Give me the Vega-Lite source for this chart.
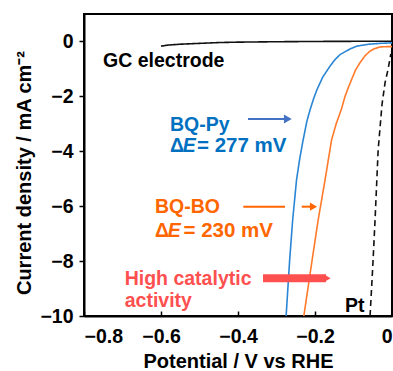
{
  "$schema": "https://vega.github.io/schema/vega-lite/v6.json",
  "autosize": "none",
  "width": 308,
  "height": 302,
  "padding": {"left": 84, "top": 14, "right": 1, "bottom": 55},
  "background": "white",
  "config": {
    "view": {"stroke": "black", "strokeWidth": 2},
    "font": "Liberation Sans",
    "axis": {
      "grid": false,
      "domainColor": "black",
      "domainWidth": 2,
      "tickColor": "black",
      "tickWidth": 1.5,
      "labelFont": "Liberation Sans",
      "labelFontWeight": "bold",
      "labelFontSize": 19.5,
      "labelColor": "black",
      "titleFont": "Liberation Sans",
      "titleFontWeight": "bold",
      "titleFontSize": 20,
      "titleColor": "black"
    }
  },
  "datasets": {
    "curves": [
      {"series": "GC electrode", "E": -0.6, "j": -0.17},
      {"series": "GC electrode", "E": -0.58, "j": -0.13},
      {"series": "GC electrode", "E": -0.55, "j": -0.1},
      {"series": "GC electrode", "E": -0.5, "j": -0.07},
      {"series": "GC electrode", "E": -0.45, "j": -0.04},
      {"series": "GC electrode", "E": -0.4, "j": -0.025},
      {"series": "GC electrode", "E": -0.3, "j": -0.01},
      {"series": "GC electrode", "E": -0.2, "j": 0},
      {"series": "GC electrode", "E": 0, "j": 0.01},
      {"series": "BQ-Py", "E": -0.275, "j": -10},
      {"series": "BQ-Py", "E": -0.266, "j": -8},
      {"series": "BQ-Py", "E": -0.258, "j": -6.5},
      {"series": "BQ-Py", "E": -0.248, "j": -5.05},
      {"series": "BQ-Py", "E": -0.24, "j": -4.3},
      {"series": "BQ-Py", "E": -0.231, "j": -3.6},
      {"series": "BQ-Py", "E": -0.221, "j": -2.9},
      {"series": "BQ-Py", "E": -0.213, "j": -2.5},
      {"series": "BQ-Py", "E": -0.204, "j": -2.1},
      {"series": "BQ-Py", "E": -0.195, "j": -1.76},
      {"series": "BQ-Py", "E": -0.18, "j": -1.3},
      {"series": "BQ-Py", "E": -0.161, "j": -0.9},
      {"series": "BQ-Py", "E": -0.148, "j": -0.66},
      {"series": "BQ-Py", "E": -0.135, "j": -0.48},
      {"series": "BQ-Py", "E": -0.11, "j": -0.28},
      {"series": "BQ-Py", "E": -0.091, "j": -0.17},
      {"series": "BQ-Py", "E": -0.06, "j": -0.1},
      {"series": "BQ-Py", "E": -0.031, "j": -0.07},
      {"series": "BQ-Py", "E": 0, "j": -0.05},
      {"series": "BQ-BO", "E": -0.229, "j": -10},
      {"series": "BQ-BO", "E": -0.21, "j": -8.2},
      {"series": "BQ-BO", "E": -0.192, "j": -6.52},
      {"series": "BQ-BO", "E": -0.174, "j": -5.05},
      {"series": "BQ-BO", "E": -0.157, "j": -3.59},
      {"series": "BQ-BO", "E": -0.145, "j": -3.0},
      {"series": "BQ-BO", "E": -0.131, "j": -2.45},
      {"series": "BQ-BO", "E": -0.122, "j": -2.0},
      {"series": "BQ-BO", "E": -0.114, "j": -1.7},
      {"series": "BQ-BO", "E": -0.105, "j": -1.39},
      {"series": "BQ-BO", "E": -0.095, "j": -1.05},
      {"series": "BQ-BO", "E": -0.083, "j": -0.77},
      {"series": "BQ-BO", "E": -0.07, "j": -0.52},
      {"series": "BQ-BO", "E": -0.057, "j": -0.35},
      {"series": "BQ-BO", "E": -0.045, "j": -0.26},
      {"series": "BQ-BO", "E": -0.031, "j": -0.2},
      {"series": "BQ-BO", "E": -0.015, "j": -0.19},
      {"series": "BQ-BO", "E": 0, "j": -0.19},
      {"series": "Pt", "E": -0.057, "j": -10},
      {"series": "Pt", "E": -0.05, "j": -8.2},
      {"series": "Pt", "E": -0.044, "j": -6.5},
      {"series": "Pt", "E": -0.036, "j": -3.96},
      {"series": "Pt", "E": -0.026, "j": -2.3},
      {"series": "Pt", "E": -0.018, "j": -1.5},
      {"series": "Pt", "E": -0.01, "j": -1.0},
      {"series": "Pt", "E": -0.003, "j": -0.45}
    ],
    "thinArrows": [
      {"group": "BQ-Py", "x": -0.374, "x2": -0.2727, "y": -2.823},
      {"group": "BQ-BO", "x": -0.3862, "x2": -0.2779, "y": -6.018},
      {"group": "BQ-BO", "x": -0.2345, "x2": -0.212, "y": -6.018}
    ],
    "thickArrows": [
      {"group": "activity", "x": -0.335, "x2": -0.1714, "y": -8.627}
    ],
    "heads": [
      {"group": "BQ-Py", "x": -0.2706, "y": -2.823},
      {"group": "BQ-BO", "x": -0.2039, "y": -6.018},
      {"group": "activity", "x": -0.1678, "y": -8.627}
    ],
    "labels": [
      {"group": "black", "x": -0.7506, "y": -0.929, "text": "GC electrode"},
      {"group": "BQ-Py", "x": -0.5766, "y": -3.26, "text": "BQ-Py"},
      {"group": "BQ-Py", "x": -0.5766, "y": -4.026, "text": "Δ"},
      {"group": "BQ-BO", "x": -0.6156, "y": -6.248, "text": "BQ-BO"},
      {"group": "BQ-BO", "x": -0.6156, "y": -7.111, "text": "Δ"},
      {"group": "activity", "x": -0.6943, "y": -8.871, "text": "High catalytic"},
      {"group": "activity", "x": -0.6943, "y": -9.661, "text": "activity"},
      {"group": "black", "x": -0.1221, "y": -9.854, "text": "Pt"}
    ],
    "values": [
      {"group": "BQ-Py", "x": -0.5065, "y": -4.026, "text": "= 277 mV"},
      {"group": "BQ-BO", "x": -0.5416, "y": -7.111, "text": "= 230 mV"}
    ],
    "italic": [
      {"group": "BQ-Py", "x": -0.5436, "y": -4.026, "text": "E"},
      {"group": "BQ-BO", "x": -0.5826, "y": -7.111, "text": "E"}
    ]
  },
  "encoding": {
    "x": {
      "field": "E",
      "type": "quantitative",
      "scale": {"domain": [-0.8, 0], "nice": false, "zero": false},
      "axis": {
        "title": "Potential / V vs RHE",
        "values": [-0.8, -0.6, -0.4, -0.2, 0],
        "format": "~g",
        "tickSize": -5,
        "labelPadding": 31,
        "labelBaseline": "alphabetic",
        "titleBaseline": "alphabetic",
        "titleY": 51.3
      }
    },
    "y": {
      "field": "j",
      "type": "quantitative",
      "scale": {"domain": [-10, 1], "nice": false, "zero": false},
      "axis": {
        "title": "Current density / mA cm⁻²",
        "values": [0, -2, -4, -6, -8, -10],
        "format": "d",
        "tickSize": 5,
        "labelPadding": 6,
        "titleAngle": -90,
        "titleBaseline": "alphabetic",
        "titleX": -53.3,
        "titleY": 158.5
      }
    }
  },
  "layer": [
    {
      "data": {"name": "curves"},
      "mark": {"type": "line", "strokeWidth": 1.6, "clip": true},
      "encoding": {
        "color": {
          "field": "series", "type": "nominal", "legend": null,
          "scale": {"domain": ["GC electrode", "BQ-Py", "BQ-BO", "Pt"], "range": ["#111111", "#2A86D4", "#FF7A2A", "#111111"]}
        },
        "strokeDash": {
          "field": "series", "type": "nominal", "legend": null,
          "scale": {"domain": ["GC electrode", "BQ-Py", "BQ-BO", "Pt"], "range": [[1, 0], [1, 0], [1, 0], [6, 4]]}
        },
        "strokeWidth": {
          "field": "series", "type": "nominal", "legend": null,
          "scale": {"domain": ["GC electrode", "BQ-Py", "BQ-BO", "Pt"], "range": [1.6, 1.6, 1.6, 2]}
        }
      }
    },
    {
      "data": {"name": "thinArrows"},
      "mark": {"type": "rule", "strokeWidth": 2},
      "encoding": {
        "x": {"field": "x", "type": "quantitative"},
        "x2": {"field": "x2"},
        "y": {"field": "y", "type": "quantitative"},
        "color": {
          "field": "group", "type": "nominal", "legend": null,
          "scale": {"domain": ["BQ-Py", "BQ-BO"], "range": ["#4472C4", "#FF6600"]}
        }
      }
    },
    {
      "data": {"name": "thickArrows"},
      "mark": {"type": "rule", "strokeWidth": 8},
      "encoding": {
        "x": {"field": "x", "type": "quantitative"},
        "x2": {"field": "x2"},
        "y": {"field": "y", "type": "quantitative"},
        "color": {"field": "group", "type": "nominal", "legend": null, "scale": {"domain": ["activity"], "range": ["#FF5050"]}}
      }
    },
    {
      "data": {"name": "heads"},
      "mark": {"type": "point", "shape": "triangle-right", "filled": true, "opacity": 1, "strokeWidth": 0},
      "encoding": {
        "x": {"field": "x", "type": "quantitative"},
        "y": {"field": "y", "type": "quantitative"},
        "color": {
          "field": "group", "type": "nominal", "legend": null,
          "scale": {"domain": ["BQ-Py", "BQ-BO", "activity"], "range": ["#4472C4", "#FF6600", "#FF5050"]}
        },
        "size": {
          "field": "group", "type": "ordinal", "legend": null,
          "scale": {"domain": ["BQ-Py", "BQ-BO", "activity"], "range": [81, 56, 169]}
        }
      }
    },
    {
      "data": {"name": "labels"},
      "mark": {"type": "text", "align": "left", "baseline": "alphabetic", "font": "Liberation Sans", "fontWeight": "bold", "fontSize": 19.5},
      "encoding": {
        "x": {"field": "x", "type": "quantitative"},
        "y": {"field": "y", "type": "quantitative"},
        "text": {"field": "text"},
        "color": {
          "field": "group", "type": "nominal", "legend": null,
          "scale": {"domain": ["black", "BQ-Py", "BQ-BO", "activity"], "range": ["#000000", "#0070C0", "#FF6600", "#FF5050"]}
        }
      }
    },
    {
      "data": {"name": "values"},
      "mark": {"type": "text", "align": "left", "baseline": "alphabetic", "font": "Liberation Sans", "fontWeight": "bold", "fontSize": 20.5},
      "encoding": {
        "x": {"field": "x", "type": "quantitative"},
        "y": {"field": "y", "type": "quantitative"},
        "text": {"field": "text"},
        "color": {
          "field": "group", "type": "nominal", "legend": null,
          "scale": {"domain": ["BQ-Py", "BQ-BO"], "range": ["#0070C0", "#FF6600"]}
        }
      }
    },
    {
      "data": {"name": "italic"},
      "mark": {"type": "text", "align": "left", "baseline": "alphabetic", "font": "Liberation Sans", "fontWeight": "bold", "fontStyle": "italic", "fontSize": 19.5},
      "encoding": {
        "x": {"field": "x", "type": "quantitative"},
        "y": {"field": "y", "type": "quantitative"},
        "text": {"field": "text"},
        "color": {
          "field": "group", "type": "nominal", "legend": null,
          "scale": {"domain": ["BQ-Py", "BQ-BO"], "range": ["#0070C0", "#FF6600"]}
        }
      }
    }
  ],
  "resolve": {"scale": {"color": "independent", "size": "independent", "strokeDash": "independent", "strokeWidth": "independent"}}
}
